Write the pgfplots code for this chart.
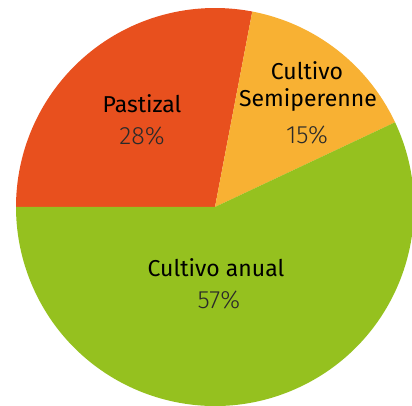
\documentclass[border=0pt]{standalone}
\usepackage{pgfplots}
\pgfplotsset{compat=1.18}
\usepackage{fontspec}
\setmainfont{Fira Sans}
\newfontfamily\lightfont{Fira Sans Light}
\definecolor{cPast}{HTML}{E8501E}
\definecolor{cSemi}{HTML}{F8B133}
\definecolor{cAnual}{HTML}{95C11F}
\definecolor{cPct}{HTML}{2A2A2A}
\begin{document}
\begin{tikzpicture}
\begin{axis}[
  width=412pt, height=406pt, scale only axis,
  xmin=0, xmax=412, ymin=0, ymax=406,
  hide axis, clip=true,
]
\path (0,0) rectangle (412,406);
% values: Pastizal 28, Cultivo Semiperenne 15, Cultivo anual 57 (clockwise from 180 deg)
\fill[cPast] (215,199) -- ++(180:199pt) arc[start angle=180, end angle={180-28*3.6}, radius=199pt] -- cycle;
\fill[cSemi] (215,199) -- ++({180-28*3.6}:199pt) arc[start angle={180-28*3.6}, end angle={180-43*3.6}, radius=199pt] -- cycle;
\fill[cAnual] (215,199) -- ++({180-43*3.6}:199pt) arc[start angle={180-43*3.6}, end angle={-180}, radius=199pt] -- cycle;
\node[font=\fontsize{23}{27}\selectfont] at (142,302) {Pastizal};
\node[font=\fontsize{25}{29}\selectfont\lightfont, text=cPct] at (142,270) {28\%};
\node[font=\fontsize{23}{27}\selectfont] at (307,335) {Cultivo};
\node[font=\fontsize{23}{27}\selectfont] at (308,306) {Semiperenne};
\node[font=\fontsize{25}{29}\selectfont\lightfont, text=cPct] at (307,271) {15\%};
\node[font=\fontsize{23}{27}\selectfont] at (216,138) {Cultivo anual};
\node[font=\fontsize{25}{29}\selectfont\lightfont, text=cPct] at (219,106) {57\%};
\end{axis}
\end{tikzpicture}
\end{document}
